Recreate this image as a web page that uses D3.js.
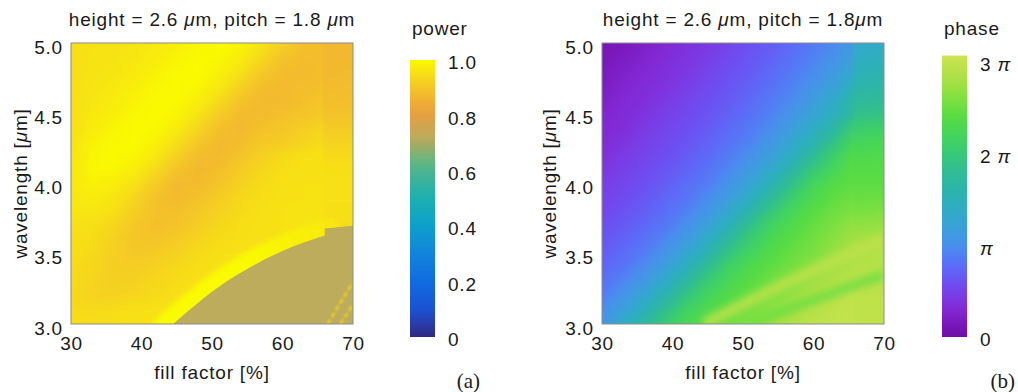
<!DOCTYPE html>
<html>
<head>
<meta charset="utf-8">
<script src="https://cdn.jsdelivr.net/npm/d3@7"></script>
<style>
  body { margin: 0; background: #fff; }
  svg text { font-family: "Liberation Sans", Arial, sans-serif; fill: #1a1a1a; }
</style>
</head>
<body>
<svg id="chart" width="1018" height="392"></svg>
<script>
// grid (rows top to bottom = 5.0 .. 3.0 um)
const fillFactors = [30, 33, 36, 39, 42, 45, 48, 51, 54, 57, 60, 63, 65.5, 66, 70];
const wavelengths = [5.0, 4.9, 4.8, 4.7, 4.6, 4.5, 4.4, 4.3, 4.2, 4.1, 4.0, 3.9, 3.8, 3.7, 3.6, 3.5, 3.4, 3.3, 3.2, 3.1, 3.0];

const powerRows = [
  [.95, .955, .956, .96, .968, .981, .994, 1.0, .991, .96, .92, .885, .88, .87, .87],
  [.95, .956, .958, .964, .975, .989, .999, .996, .977, .94, .895, .88, .88, .87, .87],
  [.95, .957, .961, .97, .984, .997, 1.0, .986, .956, .91, .88, .875, .88, .87, .875],
  [.95, .959, .966, .978, .992, 1.0, .995, .971, .928, .885, .875, .88, .885, .875, .88],
  [.95, .962, .973, .987, .998, .998, .982, .946, .897, .873, .875, .885, .895, .88, .885],
  [.95, .968, .981, .994, 1.0, .991, .963, .916, .878, .876, .885, .895, .905, .89, .89],
  [.95, .975, .99, .999, .997, .976, .936, .889, .871, .888, .90, .915, .93, .91, .91],
  [.955, .985, .997, 1.0, .986, .952, .905, .873, .88, .905, .91, .93, .94, .925, .925],
  [.96, .992, 1.0, .993, .969, .924, .88, .873, .894, .92, .94, .95, .955, .94, .94],
  [.965, .994, .994, .977, .941, .895, .87, .884, .91, .934, .947, .953, .955, .95, .95],
  [.965, .985, .978, .955, .913, .873, .875, .897, .924, .942, .951, .955, .955, .952, .952],
  [.965, .975, .963, .934, .89, .875, .889, .913, .936, .948, .953, .955, .956, .952, .952],
  [.965, .962, .95, .919, .89, .887, .904, .926, .942, .951, .955, .958, .958, .95, .95],
  [.95, .95, .934, .903, .885, .894, .915, .935, .948, .953, .955, .958, .958, .945, .945],
  [.95, .946, .924, .899, .897, .911, .93, .944, .95, .953, .955, .958, .958, .94, .94],
  [.95, .94, .918, .905, .911, .926, .941, .95, .953, .955, .955, .955, .955, .93, .93],
  [.945, .935, .918, .916, .926, .938, .948, .952, .955, .955, .955, .955, .955, .93, .93],
  [.945, .929, .92, .925, .935, .945, .95, .955, .955, .955, .955, .955, .955, .93, .93],
  [.94, .927, .926, .933, .942, .95, .955, .955, .955, .955, .955, .955, .955, .93, .93],
  [.945, .94, .945, .95, .955, .955, .955, .955, .955, .955, .955, .955, .955, .93, .93],
  [.945, .945, .95, .955, .955, .955, .955, .955, .955, .955, .955, .955, .955, .93, .93]
];

// low-power region in the lower right: its upper edge, and its level
const lowEdgeFF = [44.5, 48, 52, 56, 60, 63, 66];
const lowEdgeWL = [3.0, 3.15, 3.30, 3.42, 3.52, 3.58, 3.63];
const stripEdgeFF = [66, 70];
const stripEdgeWL = [3.68, 3.70];
const lowLevel = 0.72;
const ridgeLevel = 1.0;
// thin bright streaks in the bottom right corner
const cornerStreaks = [
  [[66.4, 3.0], [70, 3.3]],
  [[68.2, 3.0], [70, 3.14]]
];

// phase in units of pi
const phaseRows = [
  [.10, .16, .23, .30, .37, .42, .51, .60, .67, .76, .86, .97, 1.10, 1.30, 1.38],
  [.13, .19, .26, .33, .39, .46, .55, .63, .71, .81, .91, 1.02, 1.19, 1.40, 1.47],
  [.16, .23, .30, .36, .42, .51, .59, .66, .76, .86, .96, 1.12, 1.30, 1.50, 1.56],
  [.19, .27, .33, .38, .46, .55, .62, .71, .80, .91, 1.04, 1.21, 1.48, 1.60, 1.65],
  [.23, .30, .35, .42, .51, .58, .66, .75, .86, .96, 1.14, 1.36, 1.66, 1.72, 1.78],
  [.27, .32, .38, .47, .54, .62, .71, .80, .91, 1.06, 1.24, 1.48, 1.74, 1.85, 1.90],
  [.29, .34, .43, .51, .58, .66, .76, .86, .98, 1.16, 1.40, 1.67, 2.02, 2.05, 2.10],
  [.32, .39, .47, .55, .62, .71, .81, .91, 1.08, 1.31, 1.56, 1.90, 2.20, 2.20, 2.25],
  [.35, .44, .51, .58, .67, .76, .87, 1.01, 1.19, 1.45, 1.77, 2.11, 2.33, 2.30, 2.33],
  [.40, .48, .55, .63, .72, .82, .94, 1.12, 1.34, 1.65, 2.00, 2.25, 2.40, 2.38, 2.38],
  [.45, .52, .59, .68, .78, .88, 1.04, 1.26, 1.54, 1.88, 2.20, 2.37, 2.42, 2.42, 2.42],
  [.49, .56, .64, .73, .83, .98, 1.15, 1.43, 1.75, 2.09, 2.31, 2.44, 2.50, 2.48, 2.50],
  [.53, .61, .69, .79, .91, 1.08, 1.32, 1.63, 1.98, 2.24, 2.40, 2.52, 2.58, 2.56, 2.60],
  [.58, .66, .75, .85, 1.01, 1.22, 1.52, 1.86, 2.18, 2.35, 2.47, 2.58, 2.70, 2.68, 2.72],
  [.63, .72, .81, .95, 1.12, 1.41, 1.73, 2.06, 2.28, 2.41, 2.53, 2.66, 2.76, 2.78, 2.82],
  [.68, .77, .88, 1.05, 1.30, 1.60, 1.95, 2.21, 2.36, 2.48, 2.58, 2.72, 2.82, 2.84, 2.88],
  [.74, .83, .99, 1.20, 1.50, 1.84, 2.15, 2.32, 2.44, 2.55, 2.68, 2.80, 2.86, 2.88, 2.90],
  [.80, .94, 1.10, 1.40, 1.72, 2.05, 2.27, 2.40, 2.52, 2.63, 2.76, 2.86, 2.92, 2.92, 2.93],
  [.88, 1.05, 1.30, 1.60, 1.95, 2.21, 2.36, 2.48, 2.58, 2.72, 2.83, 2.93, 2.97, 2.95, 2.95],
  [.99, 1.20, 1.50, 1.84, 2.15, 2.32, 2.44, 2.55, 2.68, 2.80, 2.90, 2.96, 3.00, 2.96, 2.96],
  [1.02, 1.40, 1.72, 2.05, 2.27, 2.40, 2.52, 2.63, 2.76, 2.86, 2.95, 2.98, 3.00, 2.97, 2.97]
];
// fringes in the lower right of the phase map (ff %, wl um), with their phase
const lightFringeFF = [44.5, 48, 52, 56, 60, 63, 66, 70];
const lightFringeWL = [3.0, 3.09, 3.19, 3.29, 3.38, 3.45, 3.52, 3.6];
const lightFringeLevel = 2.95;
const darkFringeFF = [51, 55, 60, 66, 70];
const darkFringeWL = [3.0, 3.08, 3.17, 3.28, 3.35];
const darkFringeLevel = 2.5;

const xTicks = [30, 40, 50, 60, 70];
const yTicks = [3.0, 3.5, 4.0, 4.5, 5.0];
const powerTicks = [0, 0.2, 0.4, 0.6, 0.8, 1.0];
const phaseTicks = [0, 1, 2, 3];
const phaseTickLabels = [["0", ""], ["", "π"], ["2 ", "π"], ["3 ", "π"]];

// colormaps sampled from the two colorbars
const powerStops = [
  [0.00, "#2e2a80"], [0.05, "#2a3cac"], [0.10, "#1a52d2"], [0.20, "#106ce0"],
  [0.30, "#1284dc"], [0.40, "#0e9fcc"], [0.50, "#1cb0b0"], [0.60, "#4cb490"],
  [0.65, "#74b47a"], [0.70, "#a8aa62"], [0.72, "#bcac5c"], [0.75, "#cca654"],
  [0.80, "#e4a040"], [0.85, "#f0ae34"], [0.88, "#f3bd2c"], [0.92, "#f5cf22"],
  [0.95, "#f7df16"], [0.98, "#f8ee0a"], [1.00, "#fafa00"]
];
const phaseStops = [
  [0.00, "#6e0fa6"], [0.15, "#7a18bc"], [0.30, "#8228d4"], [0.45, "#7a3ce6"],
  [0.60, "#6c50f2"], [0.75, "#5e68f8"], [0.90, "#5080f4"], [1.00, "#4890ec"],
  [1.20, "#3aa0d8"], [1.40, "#30acc4"], [1.60, "#2cb4ac"], [1.80, "#30bc94"],
  [2.00, "#38c878"], [2.20, "#44d45c"], [2.40, "#58dc44"], [2.60, "#80e040"],
  [2.80, "#a8e044"], [3.00, "#c4e24c"], [3.10, "#d4e458"]
];

const svg = d3.select("#chart");
const defs = svg.append("defs");
const FS = 19, LS = "0.8px";

const powerColor = d3.scaleLinear().domain(powerStops.map(d => d[0])).range(powerStops.map(d => d[1])).clamp(true);
const phaseColor = d3.scaleLinear().domain(phaseStops.map(d => d[0])).range(phaseStops.map(d => d[1])).clamp(true);

[["soft1", 1], ["soft2", 2.5], ["soft3", 3.5]].forEach(([id, s]) => {
  defs.append("filter").attr("id", id).attr("x", "-20%").attr("y", "-20%")
    .attr("width", "140%").attr("height", "140%")
    .append("feGaussianBlur").attr("stdDeviation", s);
});

function sampler(rows) {
  const wl = wavelengths.slice().reverse();
  const grid = rows.slice().reverse();
  const clamp = (v, a, b) => Math.max(a, Math.min(b, v));
  return (f, w) => {
    const i = clamp(d3.bisectRight(fillFactors, f) - 1, 0, fillFactors.length - 2);
    const j = clamp(d3.bisectRight(wl, w) - 1, 0, wl.length - 2);
    const tx = clamp((f - fillFactors[i]) / (fillFactors[i + 1] - fillFactors[i]), 0, 1);
    const ty = clamp((w - wl[j]) / (wl[j + 1] - wl[j]), 0, 1);
    const a = grid[j][i], b = grid[j][i + 1], c = grid[j + 1][i], d = grid[j + 1][i + 1];
    return (a * (1 - tx) + b * tx) * (1 - ty) + (c * (1 - tx) + d * tx) * ty;
  };
}

function rich(sel, parts) {
  parts.forEach(p => {
    if (!p[0]) return;
    sel.append("tspan").text(p[0]).attr("font-style", p[1] ? "italic" : null);
  });
}

function panel(opt) {
  const x = d3.scaleLinear().domain([30, 70]).range(opt.xr);
  const y = d3.scaleLinear().domain([3, 5]).range([324, 43]);
  const g = svg.append("g");

  // heatmap image
  const x0 = x.range()[0], y0 = y(5);
  const w = Math.round(x(70) - x0), h = Math.round(y(3) - y0);
  const cv = document.createElement("canvas");
  cv.width = w; cv.height = h;
  const ctx = cv.getContext("2d");
  const img = ctx.createImageData(w, h);
  const val = sampler(opt.rows);
  for (let py = 0; py < h; py++) {
    const wl = y.invert(y0 + py + 0.5);
    for (let px = 0; px < w; px++) {
      const c = d3.rgb(opt.color(val(x.invert(x0 + px + 0.5), wl)));
      const k = (py * w + px) * 4;
      img.data[k] = c.r; img.data[k + 1] = c.g; img.data[k + 2] = c.b; img.data[k + 3] = 255;
    }
  }
  ctx.putImageData(img, 0, 0);
  g.append("image").attr("x", x0).attr("y", y0).attr("width", w).attr("height", h)
    .attr("preserveAspectRatio", "none").attr("href", cv.toDataURL());

  // sharp features on top of the smooth field
  const clipId = "clip" + opt.id;
  defs.append("clipPath").attr("id", clipId).append("rect")
    .attr("x", x0).attr("y", y0).attr("width", w).attr("height", h);
  const over = g.append("g").attr("clip-path", `url(#${clipId})`);
  opt.overlay(over, x, y);

  g.append("rect").attr("x", x0).attr("y", y0).attr("width", w).attr("height", h)
    .attr("fill", "none").attr("stroke", "#8c8c8c").attr("stroke-width", 1);

  // axes
  const style = a => a.attr("font-size", FS).attr("font-family", null).attr("color", "#1a1a1a")
    .call(s => s.select(".domain").remove())
    .call(s => s.selectAll("text").attr("letter-spacing", LS));
  g.append("g").attr("transform", `translate(0,${y(3)})`)
    .call(d3.axisBottom(x).tickValues(xTicks).tickSize(0).tickPadding(12.5))
    .call(style);
  g.append("g").attr("transform", `translate(${x0},0)`)
    .call(d3.axisLeft(y).tickValues(yTicks).tickSize(0).tickPadding(8).tickFormat(d3.format(".1f")))
    .call(style)
    .call(s => s.selectAll("text").attr("dy", "0.53em"));

  // titles
  const cx = (x0 + x(70)) / 2;
  rich(g.append("text").attr("x", cx).attr("y", 26).attr("text-anchor", "middle")
    .attr("font-size", FS).attr("letter-spacing", LS), opt.title);
  g.append("text").attr("x", cx).attr("y", 379).attr("text-anchor", "middle")
    .attr("font-size", FS).attr("letter-spacing", LS).text("fill factor [%]");
  rich(g.append("text").attr("transform", `translate(${x0 - opt.ylab},183.5) rotate(-90)`)
    .attr("text-anchor", "middle").attr("font-size", FS).attr("letter-spacing", LS),
    [["wavelength [", false], ["μ", true], ["m]", false]]);

  // colorbar
  const cbY = d3.scaleLinear().domain([0, opt.cbTop]).range([337, opt.cbTopY]);
  const gid = "grad" + opt.id;
  const grad = defs.append("linearGradient").attr("id", gid)
    .attr("x1", 0).attr("y1", 1).attr("x2", 0).attr("y2", 0);
  const top = opt.cbMax;
  d3.range(0, 61).forEach(i => {
    const v = top * i / 60;
    grad.append("stop").attr("offset", i / 60).attr("stop-color", opt.color(v));
  });
  g.append("rect").attr("x", opt.cbX).attr("y", cbY(top)).attr("width", 25)
    .attr("height", cbY(0) - cbY(top)).attr("fill", `url(#${gid})`);
  const ax = g.append("g").attr("transform", `translate(${opt.cbX + 25},0)`)
    .call(d3.axisRight(cbY).tickValues(opt.ticks).tickSize(0).tickPadding(13).tickFormat(opt.fmt))
    .call(style)
    .call(s => s.selectAll("text").attr("dy", "0.46em"));
  if (opt.richTicks) {
    ax.selectAll(".tick text").each(function (d, i) {
      const t = d3.select(this).text(null);
      rich(t, [[opt.richTicks[i][0], false], [opt.richTicks[i][1], true]]);
    });
  }
  g.append("text").attr("x", opt.cbX + 2).attr("y", 35).attr("font-size", FS)
    .attr("letter-spacing", LS).text(opt.cbLabel);
  g.append("text").attr("x", opt.tag[0]).attr("y", 388).attr("text-anchor", "end")
    .style("font-family", '"Liberation Serif", "DejaVu Serif", serif').attr("font-size", 21)
    .text(opt.tag[1]);
}

panel({
  id: "a", xr: [71, 353], rows: powerRows, color: powerColor, ylab: 44,
  title: [["height = 2.6 ", false], ["μ", true], ["m, pitch = 1.8 ", false], ["μ", true], ["m", false]],
  cbX: 410, cbTop: 1, cbTopY: 60, cbMax: 1, ticks: powerTicks,
  fmt: d => d === 0 ? "0" : d3.format(".1f")(d), cbLabel: "power", tag: [480, "(a)"],
  overlay: (o, x, y) => {
    const pts = lowEdgeFF.map((f, i) => [f, lowEdgeWL[i]]);
    const strip = stripEdgeFF.map((f, i) => [f, stripEdgeWL[i]]);
    const curve = d3.line().x(d => x(d[0])).y(d => y(d[1])).curve(d3.curveMonotoneX);
    const line = d3.line().x(d => x(d[0])).y(d => y(d[1]));
    // bright ridge that runs along the edge of the low-power region
    const rg = defs.append("linearGradient").attr("id", "ridgeFade")
      .attr("gradientUnits", "userSpaceOnUse").attr("x1", x(55)).attr("x2", x(66)).attr("y1", 0).attr("y2", 0);
    rg.append("stop").attr("offset", 0).attr("stop-color", powerColor(ridgeLevel)).attr("stop-opacity", 1);
    rg.append("stop").attr("offset", 1).attr("stop-color", powerColor(ridgeLevel)).attr("stop-opacity", 0.35);
    o.append("path").attr("d", curve(pts))
      .attr("fill", "none").attr("stroke", "url(#ridgeFade)").attr("stroke-width", 30)
      .attr("stroke-linecap", "square").attr("stroke-linejoin", "round").attr("filter", "url(#soft2)");
    // low-power region: smooth edge, then the step into the last strip
    const last = strip[strip.length - 1];
    const d = curve(pts) + strip.map(p => `L${x(p[0])},${y(p[1])}`).join("") +
      `L${x(last[0])},${y(3)}L${x(pts[0][0])},${y(3)}Z`;
    o.append("path").attr("d", d).attr("fill", powerColor(lowLevel));
    o.selectAll(".streak").data(cornerStreaks).join("path").attr("class", "streak")
      .attr("d", line).attr("fill", "none").attr("stroke", powerColor(0.92))
      .attr("stroke-width", 2.5).attr("stroke-dasharray", "5 3").attr("filter", "url(#soft1)");
  }
});
panel({
  id: "b", xr: [602, 884], rows: phaseRows, color: phaseColor, ylab: 46,
  title: [["height = 2.6 ", false], ["μ", true], ["m, pitch = 1.8", false], ["μ", true], ["m", false]],
  cbX: 942, cbTop: 3, cbTopY: 62, cbMax: 3.07, ticks: phaseTicks,
  fmt: d => String(d), richTicks: phaseTickLabels, cbLabel: "phase", tag: [1015, "(b)"],
  overlay: (o, x, y) => {
    const line = d3.line().x(d => x(d[0])).y(d => y(d[1])).curve(d3.curveMonotoneX);
    const light = lightFringeFF.map((f, i) => [f, lightFringeWL[i]]);
    const dark = darkFringeFF.map((f, i) => [f, darkFringeWL[i]]);
    o.append("path").attr("d", line(dark)).attr("fill", "none")
      .attr("stroke", phaseColor(darkFringeLevel)).attr("stroke-width", 10)
      .attr("stroke-opacity", 0.8).attr("filter", "url(#soft3)");
    o.append("path").attr("d", line(light)).attr("fill", "none")
      .attr("stroke", phaseColor(lightFringeLevel)).attr("stroke-width", 11)
      .attr("stroke-opacity", 0.85).attr("filter", "url(#soft3)");
  }
});
</script>
</body>
</html>
